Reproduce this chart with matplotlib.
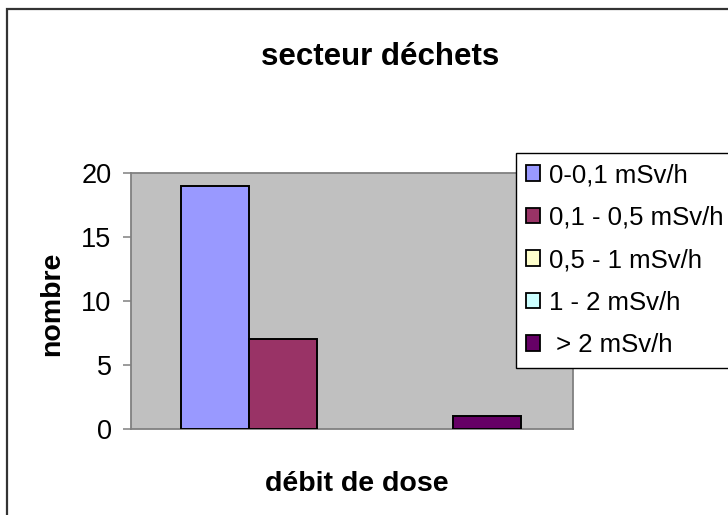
import matplotlib
matplotlib.use("Agg")
import matplotlib.pyplot as plt
from matplotlib.patches import Patch, Rectangle

# Data
title = "secteur déchets"
xlabel = "débit de dose"
ylabel = "nombre"
series_labels = ["0-0,1 mSv/h", "0,1 - 0,5 mSv/h", "0,5 - 1 mSv/h", "1 - 2 mSv/h", " > 2 mSv/h"]
series_values = [19, 7, 0, 0, 1]
series_colors = ["#9999FF", "#993366", "#FFFFCC", "#CCFFFF", "#660066"]
yticks = [0, 5, 10, 15, 20]

plt.rcParams['font.family'] = ['Liberation Sans', 'DejaVu Sans']

W, H = 728, 515
fig = plt.figure(figsize=(W / 100, H / 100), dpi=100)
fig.patch.set_facecolor("white")

# outer chart border (only left/top visible)
fig.patches.append(Rectangle((7 / W, -0.2), 2.0, 1 - 9 / H + 0.2, fill=False,
                             ec="#333333", lw=1.6, transform=fig.transFigure))

left, right, top, bottom = 131, 573, 173, 429
ax = fig.add_axes([left / W, 1 - bottom / H, (right - left) / W, (bottom - top) / H])
ax.set_facecolor("#C0C0C0")

n = len(series_values)
w = 1.0
for i, (v, c, lab) in enumerate(zip(series_values, series_colors, series_labels)):
    x = (i - (n - 1) / 2) * w
    ax.bar(x, v, width=w, color=c, edgecolor="black", linewidth=1.4 if v > 0 else 0,
           label=lab, zorder=3)

px_per_unit = 68.0
ax.set_xlim(-2.5 - 50 / px_per_unit, -2.5 + (right - left - 50) / px_per_unit)
ax.set_ylim(0, 20)
ax.set_yticks(yticks)
ax.set_xticks([])
ax.tick_params(axis="y", direction="out", length=6, width=1.1, color="#808080",
               labelsize=19.5, pad=8, labelcolor="black")
for s in ax.spines.values():
    s.set_color("#808080")
    s.set_linewidth(1.3)

fig.text(380 / W, 1 - 65 / H, title, ha="center", va="baseline",
         fontsize=22.5, fontweight="bold")
fig.text(357 / W, 1 - 491 / H, xlabel, ha="center", va="baseline",
         fontsize=20.5, fontweight="bold")
fig.text(59 / W, 1 - 304 / H, ylabel, ha="center", va="baseline", rotation=90,
         fontsize=20.5, fontweight="bold", rotation_mode="anchor")

handles = [Patch(facecolor=c, edgecolor="black", linewidth=1.3) for c in series_colors]
leg = fig.legend(handles, series_labels, loc="upper left",
                 bbox_to_anchor=(516 / W, 1 - 153 / H), bbox_transform=fig.transFigure,
                 fontsize=18.5, frameon=True, fancybox=False, shadow=False,
                 handlelength=0.55, handleheight=0.55, handletextpad=0.35,
                 borderpad=0.4, labelspacing=0.72, borderaxespad=0)
leg.get_frame().set_edgecolor("black")
leg.get_frame().set_linewidth(1.0)
leg.get_frame().set_facecolor("white")
leg.get_frame().set_alpha(1)

fig.savefig("out.png", dpi=100)
